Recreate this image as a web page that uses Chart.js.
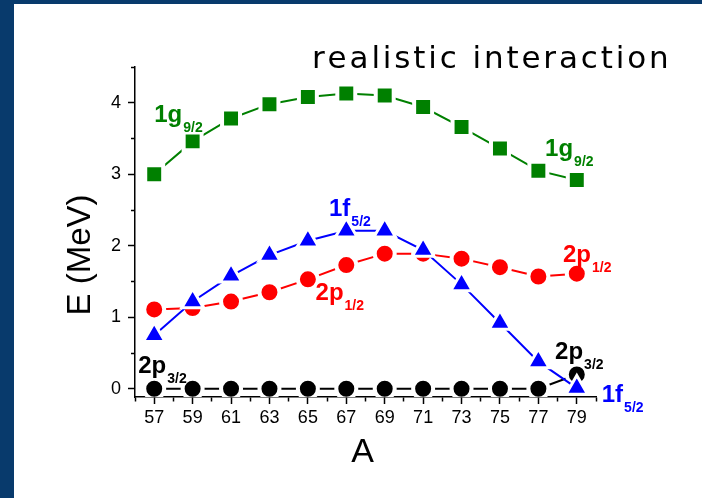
<!DOCTYPE html>
<html>
<head>
<meta charset="utf-8">
<script src="https://cdn.jsdelivr.net/npm/chart.js@4.4.0/dist/chart.umd.min.js"></script>
<style>
  html, body { margin: 0; padding: 0; background: #fff; }
  body { width: 702px; height: 498px; position: relative; overflow: hidden; }
  #wrap { position: absolute; left: 0; top: 0; width: 702px; height: 498px; }
  .band { position: absolute; background: #083a6c; }
  #bandTop { left: 0; top: 0; width: 702px; height: 4px; }
  #bandLeft { left: 0; top: 0; width: 14px; height: 498px; }
</style>
</head>
<body>
<div id="wrap"><canvas id="myChart"></canvas></div>
<div class="band" id="bandTop"></div>
<div class="band" id="bandLeft"></div>
<script>
// mass number A and single-particle energies (MeV)
const massNumbers = [57, 59, 61, 63, 65, 67, 69, 71, 73, 75, 77, 79];
const g92 = [3.00, 3.46, 3.78, 3.98, 4.08, 4.13, 4.10, 3.94, 3.66, 3.36, 3.05, 2.92];
const f52 = [0.75, 1.22, 1.58, 1.87, 2.07, 2.21, 2.21, 1.94, 1.46, 0.92, 0.38, 0.01];
const p12 = [1.11, 1.13, 1.22, 1.35, 1.53, 1.73, 1.89, 1.89, 1.82, 1.70, 1.57, 1.61];
const p32 = [0, 0, 0, 0, 0, 0, 0, 0, 0, 0, 0, 0.20];
const yLabels = [0, 1, 2, 3, 4];
const xLabels = [57, 59, 61, 63, 65, 67, 69, 71, 73, 75, 77, 79];

// orbital names written next to the curves, anchored at (A, E)
const levelLabels = [
  { main: '1g', sub: '9/2', color: '#008000', a: 57.0, e: 3.73 },
  { main: '1g', sub: '9/2', color: '#008000', a: 77.35, e: 3.25 },
  { main: '1f', sub: '5/2', color: '#0000ff', a: 66.1, e: 2.41 },
  { main: '1f', sub: '5/2', color: '#0000ff', a: 80.3, e: -0.18 },
  { main: '2p', sub: '1/2', color: '#ff0000', a: 78.28, e: 1.77 },
  { main: '2p', sub: '1/2', color: '#ff0000', a: 65.4, e: 1.24 },
  { main: '2p', sub: '3/2', color: '#000000', a: 56.17, e: 0.215 },
  { main: '2p', sub: '3/2', color: '#000000', a: 77.87, e: 0.41 }
];

const FONT = '"Liberation Sans", Arial, sans-serif';

function pts(values) {
  return values.map((v, i) => ({ x: massNumbers[i], y: v }));
}

const textPlugin = {
  id: 'levelText',
  afterDraw(chart) {
    const { ctx, scales: { x, y } } = chart;
    ctx.save();
    ctx.textBaseline = 'alphabetic';
    ctx.textAlign = 'left';
    levelLabels.forEach(l => {
      const px = x.getPixelForValue(l.a);
      const py = y.getPixelForValue(l.e);
      ctx.fillStyle = l.color;
      ctx.font = 'bold 24px ' + FONT;
      ctx.fillText(l.main, px, py);
      const w = ctx.measureText(l.main).width;
      ctx.font = 'bold 14px ' + FONT;
      ctx.fillText(l.sub, px + w + 1, py + 10);
    });

    // axis titles
    ctx.fillStyle = '#000';
    ctx.font = '34px ' + FONT;
    ctx.textAlign = 'center';
    ctx.fillText('A', (x.left + x.right) / 2 - 3, 462);
    ctx.save();
    ctx.translate(90, 255);
    ctx.rotate(-Math.PI / 2);
    ctx.font = '33px ' + FONT;
    ctx.fillText('E (MeV)', 0, 0);
    ctx.restore();

    // heading, spread to fill its line
    const title = 'realistic interaction';
    ctx.font = '31px "DejaVu Sans", sans-serif';
    ctx.textAlign = 'left';
    const left = 312, right = 668;
    const natural = ctx.measureText(title).width;
    const extra = (right - left - natural) / (title.length - 1);
    let cx = left;
    for (const ch of title) {
      ctx.fillText(ch, cx, 68);
      cx += ctx.measureText(ch).width + extra;
    }
    ctx.restore();
  }
};

function series(data, color, style, radius, border) {
  return {
    data: pts(data),
    borderColor: color,
    backgroundColor: color,
    borderWidth: 2,
    pointStyle: style,
    pointRadius: radius,
    pointBackgroundColor: color,
    pointBorderColor: '#fff',
    pointBorderWidth: border,
    tension: 0
  };
}

const ctx = document.getElementById('myChart').getContext('2d');
const myChart = new Chart(ctx, {
  type: 'line',
  data: {
    datasets: [
      series(f52, '#0000ff', 'triangle', 12.5, 3),
      series(p12, '#ff0000', 'circle', 10, 4),
      series(g92, '#008000', 'rect', 12.7, 4),
      series(p32, '#000000', 'circle', 10, 4)
    ]
  },
  options: {
    responsive: true,
    maintainAspectRatio: false,
    animation: false,
    events: [],
    layout: { padding: { left: 0, top: 67, right: 106, bottom: 0 } },
    plugins: { legend: { display: false }, tooltip: { enabled: false } },
    scales: {
      x: {
        type: 'linear',
        min: 56,
        max: 80,
        afterFit: s => { s.height = 101; },
        border: { color: '#000', width: 1.5 },
        grid: {
          drawOnChartArea: false,
          tickLength: 7,
          tickWidth: 1.5,
          tickColor: '#000',
          tickBorderDash: c => (xLabels.includes(c.tick.value) ? [] : [4, 20])
        },
        ticks: {
          stepSize: 1,
          autoSkip: false,
          maxRotation: 0,
          padding: 3,
          color: '#000',
          font: { family: FONT, size: 18 },
          callback: v => (xLabels.includes(v) ? String(v) : '')
        }
      },
      y: {
        min: -0.115,
        max: 4.5,
        afterFit: s => { s.width = 135; },
        border: { color: '#000', width: 1.5 },
        grid: {
          drawOnChartArea: false,
          tickLength: 7,
          tickWidth: 1.5,
          tickColor: '#000',
          tickBorderDash: c => (yLabels.includes(c.tick.value) ? [] : [0, 3, 4, 20])
        },
        ticks: {
          stepSize: 0.5,
          includeBounds: false,
          padding: 7,
          color: '#000',
          font: { family: FONT, size: 18 },
          callback: v => (yLabels.includes(v) ? String(v) : '')
        }
      }
    }
  },
  plugins: [textPlugin]
});
</script>
</body>
</html>
